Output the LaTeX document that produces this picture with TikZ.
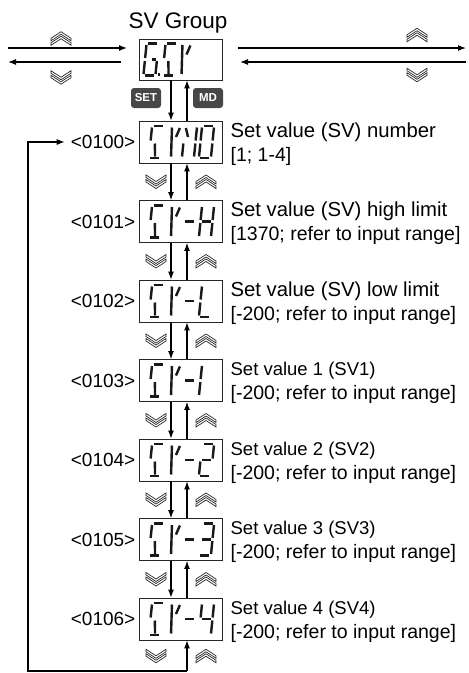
\documentclass[tikz,border=0pt]{standalone}
\usepackage{fontspec}
\setmainfont{Liberation Sans}
\usetikzlibrary{arrows.meta,positioning}

% segments of one display digit, centre at (0,0), y pointing down
\def\lcdsega{(-4.5,-16) -- (4.5,-16)}
\def\lcdsegb{(6,-14.5) -- (6,-1.5)}
\def\lcdsegc{(6,1.5) -- (6,14.5)}
\def\lcdsegd{(-4.5,16) -- (4.5,16)}
\def\lcdsege{(-6,1.5) -- (-6,14.5)}
\def\lcdsegf{(-6,-14.5) -- (-6,-1.5)}
\def\lcdsegg{(-4.5,0) -- (4.5,0)}
\def\lcdsegh{(0.5,0) -- (4.5,0)}
\def\lcdsegj{(-1.5,1.5) -- (0,14.5)}
\def\lcdsegk{(5,-14) -- (2,-5)}
\def\lcdsegm{(-5,-14) -- (-2,-5)}
\def\lcdsegv{(-3,-14.5) -- (-1,14.5)}
\def\lcdsegp{(8.5,15) -- (10.5,15)}

\def\chG{a,f,e,d,c,h,p}
\def\chS{a,f,j,d}
\def\chV{v,k}
\def\chN{m,e,b,c}
\def\chO{a,b,c,d,e,f}
\def\chDash{g}
\def\chH{f,e,b,c,g}
\def\chL{f,e,d}
\def\chI{f,e}
\def\chII{a,b,g,e,d}
\def\chIII{a,b,g,c,d}
\def\chIV{f,g,b,c}

\newcommand\lcdglyph[3]{%
  \edef\lcdlist{#3}%
  \begin{scope}[shift={(#1)},xshift=#2,xslant=0.1]
    \foreach \s in \lcdlist {\edef\lcdcmd{\noexpand\draw[seg] \csname lcdseg\s\endcsname;}\lcdcmd}
  \end{scope}}

\begin{document}
\begin{tikzpicture}[x=1pt,y=-1pt,
  lcdbox/.style={draw=black!85,line width=0.9pt,minimum width=83pt,minimum height=42pt,inner sep=0pt},
  seg/.style={line width=2.4pt,black!90},
  arr/.style={-{Latex[length=8pt,width=6pt]},line width=1.1pt},
  addr/.style={font=\fontsize{19}{21}\selectfont,inner sep=1pt},
  desc/.style={inner sep=0pt,anchor=base west},
  btn/.style={fill=black!72,rounded corners=3pt,text=white,font=\fontsize{11.5}{13}\selectfont\bfseries,minimum width=30pt,minimum height=20pt,inner sep=0pt},
  chev/.style={draw=black!85,fill=white,line width=0.7pt},
  chevup/.pic={\foreach \d in {-2.25,2.25}{\draw[chev,shift={(0,\d)}] (-10,2) -- (0,-4.5) -- (10,2) -- (10,4.5) -- (0,-2) -- (-10,4.5) -- cycle;}}]
\useasboundingbox (0,0) rectangle (469,673);

% group display
\node[font=\fontsize{22.5}{24}\selectfont,inner sep=0pt,anchor=base] (title) at (178,28) {SV Group};
\node[lcdbox,minimum height=41pt] (gsv) at (180.5,59.5) {};
\lcdglyph{gsv}{-29.5}{\chG}
\lcdglyph{gsv}{-10.5}{\chS}
\lcdglyph{gsv}{3.5}{\chV}

% to the other groups
\coordinate (lt1) at (8,48);
\coordinate (lt2) at (127,48);
\coordinate (lb1) at (121,62);
\coordinate (lb2) at (8,62);
\coordinate (rt1) at (238,48);
\coordinate (rt2) at (466,48);
\coordinate (rb1) at (466,62);
\coordinate (rb2) at (240,62);
\draw[arr] (lt1) -- (lt2);
\draw[arr] (lb1) -- (lb2);
\draw[arr] (rt1) -- (rt2);
\draw[arr] (rb1) -- (rb2);
\pic at (61,38.5) {chevup};
\pic[rotate=180] at (61,77.5) {chevup};
\pic at (417,35) {chevup};
\pic[rotate=180] at (417,75) {chevup};

% parameters
\foreach \i/\y/\addr/\fs/\name/\range in {
  0/142/0100/20.3/Set value (SV) number/{[1; 1-4]},
  1/221.5/0101/20.3/Set value (SV) high limit/{[1370; refer to input range]},
  2/301/0102/20.3/Set value (SV) low limit/{[-200; refer to input range]},
  3/380.5/0103/18.5/Set value 1 (SV1)/{[-200; refer to input range]},
  4/460/0104/18.5/Set value 2 (SV2)/{[-200; refer to input range]},
  5/539.5/0105/18.5/Set value 3 (SV3)/{[-200; refer to input range]},
  6/619/0106/18.5/Set value 4 (SV4)/{[-200; refer to input range]}}{
  \node[lcdbox] (sv\i) at (180.5,\y) {};
  \node[addr,left=2pt of sv\i] (lbl\i) {<\addr>};
  \node[desc,font=\fontsize{\fs}{22}\selectfont] (nm\i) at ([shift={(8,-5)}]sv\i.east) {\name};
  \node[desc,font=\fontsize{19.5}{22}\selectfont] (rg\i) at ([shift={(8,19)}]sv\i.east) {\range};
}
\lcdglyph{sv0}{-24}{\chS}
\lcdglyph{sv0}{-7}{\chV}
\lcdglyph{sv0}{9}{\chN}
\lcdglyph{sv0}{26}{\chO}
\foreach \i/\last in {1/\chH,2/\chL,3/\chI,4/\chII,5/\chIII,6/\chIV}{
  \lcdglyph{sv\i}{-24}{\chS}
  \lcdglyph{sv\i}{-7}{\chV}
  \lcdglyph{sv\i}{9}{\chDash}
  \lcdglyph{sv\i}{26}{\last}
}

% keys and arrows
\coordinate (dn) at (171,0);
\coordinate (up) at (187,0);
\node[btn] (set) at (146,98) {SET};
\node[btn] (md) at (208,98) {MD};
\draw[arr] (gsv.south -| dn) -- (sv0.north -| dn);
\draw[arr] (sv0.north -| up) -- (gsv.south -| up);
\foreach \i in {0,...,5}{
  \pgfmathtruncatemacro\j{\i+1}
  \draw[arr] (sv\i.south -| dn) -- (sv\j.north -| dn);
  \draw[arr] (sv\j.north -| up) -- (sv\i.south -| up);
  \path (sv\i.south) -- (sv\j.north) coordinate[midway] (mid\i);
  \pic[rotate=180] at ([xshift=-24.5]mid\i) {chevup};
  \pic at ([xshift=25.5]mid\i) {chevup};
}

% back to the first parameter
\coordinate (mid6) at (180.5,656);
\pic[rotate=180] at ([xshift=-24.5]mid6) {chevup};
\pic at ([xshift=25.5]mid6) {chevup};
\coordinate (lp) at (187,671);
\coordinate (lc) at (28,142);
\draw[arr] (lp) -- (sv6.south -| lp);
\draw[arr,shorten >=5pt] (lp) -| (lc) -- (lbl0.west);
\end{tikzpicture}
\end{document}
